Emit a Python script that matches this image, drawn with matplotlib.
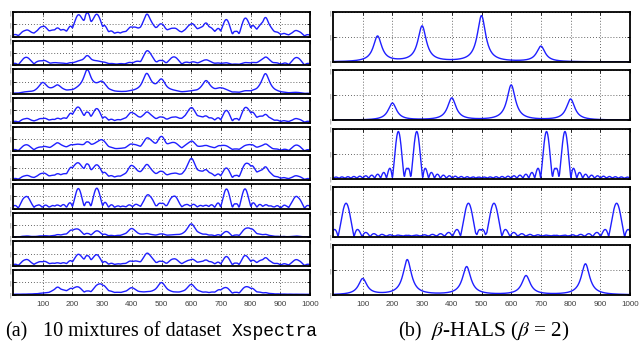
import numpy as np
import matplotlib
matplotlib.use('Agg')
import matplotlib.pyplot as plt

plt.rcParams['mathtext.fontset'] = 'stix'

# sampling grid of the spectra
x = np.arange(0, 1001)

# --- sources: peak centres, heights, widths ---
s1_pos = [150, 300, 500, 700]
s1_hgt = [0.51, 0.71, 0.92, 0.31]
s2_pos = [200, 400, 600, 800]
s2_hgt = [0.34, 0.44, 0.70, 0.42]
s3_pos = [220, 282, 719, 781]
s3_hgt = [0.94, 0.94, 0.94, 0.94]
s4_pos = [44, 456, 542, 955]
s4_hgt = [0.67, 0.67, 0.67, 0.67]
s5_pos = [100, 250, 450, 650, 850]
s5_hgt = [0.32, 0.70, 0.56, 0.38, 0.62]
lor_width = 17
s3_width = 20
s4_width = 27

# mixing weights: rows = mixtures, cols = S1..S5
mix_weights = [
    [0.40, 0.60, 0.60, 0.30, 1.10],
    [0.10, 0.10, 0.05, 0.45, 0.50],
    [0.55, 0.05, 0.05, 0.05, 1.30],
    [0.15, 0.80, 0.45, 0.20, 0.40],
    [0.55, 0.50, 0.10, 0.35, 0.40],
    [0.25, 1.15, 0.40, 0.20, 0.70],
    [0.10, 0.10, 0.80, 0.70, 0.10],
    [0.10, 0.75, 0.20, 0.05, 0.10],
    [0.10, 0.30, 0.35, 0.35, 0.45],
    [0.50, 0.55, 0.20, 0.00, 0.05],
]

xticks = [100, 200, 300, 400, 500, 600, 700, 800, 900, 1000]


def lorentz(pos, hgt, g):
    y = np.zeros_like(x, dtype=float)
    for c, h in zip(pos, hgt):
        y += h / (1 + ((x - c) / g) ** 2)
    return y


def sinc_peaks(pos, hgt, w):
    y = np.zeros_like(x, dtype=float)
    for c, h in zip(pos, hgt):
        y = np.maximum(y, h * np.abs(np.sinc((x - c) / w)))
    return y


sources = [
    lorentz(s1_pos, s1_hgt, lor_width),
    lorentz(s2_pos, s2_hgt, lor_width),
    sinc_peaks(s3_pos, s3_hgt, s3_width),
    sinc_peaks(s4_pos, s4_hgt, s4_width),
    lorentz(s5_pos, s5_hgt, lor_width),
]
mixtures = [sum(w * s for w, s in zip(row, sources)) for row in mix_weights]

W, H = 639, 343
fig = plt.figure(figsize=(W / 100, H / 100), dpi=100)
line_col = (0.12, 0.12, 1.0)


def style(ax, curve, last):
    ax.plot(x, curve, color=line_col, lw=1.0)
    ax.set_xlim(0, 1000)
    ax.set_ylim(0, 1)
    ax.set_xticks(xticks)
    ax.set_yticks([0, 0.5, 1])
    ax.set_yticklabels(['|', '|', '|'], fontsize=3.5, color='0.35')
    ax.grid(True, linestyle=(0, (1, 2.5)), color='0.2', lw=0.6)
    ax.tick_params(direction='in', length=2.5, width=0.6, top=True, right=True, pad=1.5)
    ax.tick_params(axis='y', pad=1)
    for sp in ax.spines.values():
        sp.set_linewidth(1.3)
    if last:
        ax.set_xticklabels([str(t) for t in xticks], fontsize=5.8, color='0.25',
                           family='Liberation Sans')
        ax.tick_params(axis='x', pad=4.5)
    else:
        ax.set_xticklabels([])


# left panel: 10 mixtures
for i, curve in enumerate(mixtures):
    top = 12 + i * 28.67
    ax = fig.add_axes([13 / W, 1 - (top + 24.5) / H, 297 / W, 24.5 / H])
    style(ax, curve, i == len(mixtures) - 1)

# right panel: 5 estimated sources
for i, curve in enumerate(sources):
    top = 12 + i * 58.25
    ax = fig.add_axes([333 / W, 1 - (top + 50) / H, 297 / W, 50 / H])
    style(ax, curve, i == len(sources) - 1)

# captions
cap_y = 1 - 336 / H
fig.text(5 / W, cap_y, '(a)', fontsize=14.5, family='Liberation Serif',
         va='baseline', ha='left')
fig.text(43 / W, cap_y, '10 mixtures of dataset', fontsize=14.5,
         family='Liberation Serif', va='baseline', ha='left')
fig.text(232 / W, cap_y, 'Xspectra', fontsize=13, family='Liberation Mono',
         va='baseline', ha='left')
fig.text(398 / W, cap_y, '(b)', fontsize=14.5, family='Liberation Serif',
         va='baseline', ha='left')
fig.text(431 / W, cap_y, r'$\beta$-HALS ($\beta$ = 2)', fontsize=15.3,
         family='Liberation Serif', va='baseline', ha='left')

fig.savefig('out.png', dpi=100)
